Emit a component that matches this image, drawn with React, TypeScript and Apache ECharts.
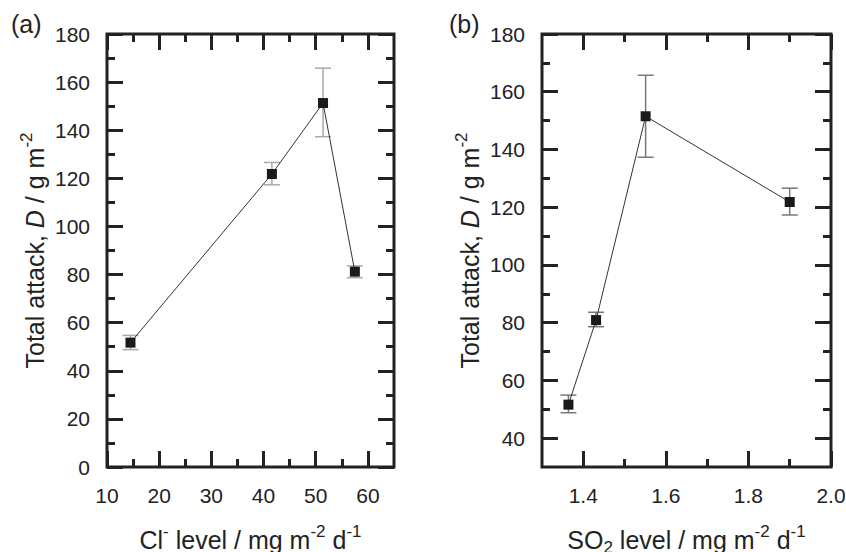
import React, { useEffect, useRef } from "react";
import * as echarts from "echarts";

// ---------- data ----------
const clLevel = [14.5, 41.6, 51.4, 57.5];
const clAttack = [51.7, 121.8, 151.3, 81.2];
const clErrLow = [48.8, 117.3, 137.3, 78.7];
const clErrHigh = [54.7, 126.6, 165.8, 83.6];

const so2Level = [1.364, 1.431, 1.551, 1.9];
const so2Attack = [51.6, 80.9, 151.5, 121.8];
const so2ErrLow = [48.8, 78.6, 137.3, 117.3];
const so2ErrHigh = [54.9, 83.6, 165.7, 126.6];

const clMajorTicks = [10, 20, 30, 40, 50, 60];
const clMinorTicks = [15, 25, 35, 45, 55];
const attackMajorA = [0, 20, 40, 60, 80, 100, 120, 140, 160, 180];
const attackMinorA = [10, 30, 50, 70, 90, 110, 130, 150, 170];
const so2MajorTicks = [1.4, 1.6, 1.8, 2.0];
const so2MinorTicks = [1.5, 1.7, 1.9];
const attackMajorB = [40, 60, 80, 100, 120, 140, 160, 180];
const attackMinorB = [50, 70, 90, 110, 130, 150, 170];

const FONT = '"Liberation Sans", Arial, Helvetica, sans-serif';
const INK = "#222";
const MAJOR_LEN = 16;
const MINOR_LEN = 8;
const GRID_W_A = 287;
const GRID_W_B = 289;
const GRID_H = 433;

const makeNameStyle = () => ({
  fontFamily: FONT,
  fontSize: 25,
  lineHeight: 33,
  color: INK,
  rich: {
    i: { fontFamily: FONT, fontSize: 25, lineHeight: 33, fontStyle: "italic", color: INK },
    sup: { fontFamily: FONT, fontSize: 17, lineHeight: 17, verticalAlign: "top", color: INK },
    sub: { fontFamily: FONT, fontSize: 17, lineHeight: 17, verticalAlign: "bottom", color: INK },
  },
});

function mkAxis(
  gridIndex: number,
  position: string,
  min: number,
  max: number,
  labels: number[],
  fmt: (v: number) => string,
  name: string,
  nameGap: number,
  rotate: number,
  margin: number
) {
  return {
    type: "value",
    gridIndex,
    min,
    max,
    position,
    splitLine: { show: false },
    axisLine: { show: false, onZero: false },
    axisTick: { show: false },
    axisLabel: {
      show: true,
      customValues: labels.slice(),
      margin,
      fontFamily: FONT,
      fontSize: 21,
      color: INK,
      formatter: (v: number) => fmt(v),
    },
    name,
    nameLocation: "middle",
    nameGap,
    nameRotate: rotate,
    nameTextStyle: makeNameStyle(),
  };
}

type TickSpec = {
  xExt: [number, number];
  yExt: [number, number];
  xMajor: number[];
  xMinor: number[];
  yMajor: number[];
  yMinor: number[];
  w: number;
  h: number;
};

// inward tick marks on all four sides as mark lines in data space
function tickMarkLines(t: TickSpec) {
  const xu = (t.xExt[1] - t.xExt[0]) / t.w;
  const yu = (t.yExt[1] - t.yExt[0]) / t.h;
  const out: any[] = [];
  const xs: [number[], number][] = [[t.xMajor, MAJOR_LEN], [t.xMinor, MINOR_LEN]];
  xs.forEach(([vals, len]) => {
    vals.forEach((v) => {
      out.push([{ coord: [v, t.yExt[0]] }, { coord: [v, t.yExt[0] + len * yu] }]);
      out.push([{ coord: [v, t.yExt[1]] }, { coord: [v, t.yExt[1] - len * yu] }]);
    });
  });
  const ys: [number[], number][] = [[t.yMajor, MAJOR_LEN], [t.yMinor, MINOR_LEN]];
  ys.forEach(([vals, len]) => {
    vals.forEach((v) => {
      out.push([{ coord: [t.xExt[0], v] }, { coord: [t.xExt[0] + len * xu, v] }]);
      out.push([{ coord: [t.xExt[1], v] }, { coord: [t.xExt[1] - len * xu, v] }]);
    });
  });
  return out;
}

function errorSeries(xi: number, xs: number[], lo: number[], hi: number[], color: string) {
  return {
    type: "custom",
    xAxisIndex: xi,
    yAxisIndex: xi,
    z: 1,
    data: xs.map((x, i) => [x, lo[i], hi[i]]),
    encode: { x: 0, y: [1, 2] },
    renderItem: (_params: any, api: any) => {
      const x = api.value(0);
      const top = api.coord([x, api.value(2)]);
      const bot = api.coord([x, api.value(1)]);
      const hw = 8;
      const st = { stroke: color, lineWidth: 1.5 };
      return {
        type: "group",
        children: [
          { type: "line", shape: { x1: top[0], y1: top[1], x2: bot[0], y2: bot[1] }, style: st },
          { type: "line", shape: { x1: top[0] - hw, y1: top[1], x2: top[0] + hw, y2: top[1] }, style: st },
          { type: "line", shape: { x1: bot[0] - hw, y1: bot[1], x2: bot[0] + hw, y2: bot[1] }, style: st },
        ],
      };
    },
  };
}

function lineSeries(xi: number, xs: number[], ys: number[], ticks: TickSpec) {
  return {
    type: "line",
    xAxisIndex: xi,
    yAxisIndex: xi,
    z: 3,
    data: xs.map((x, i) => [x, ys[i]]),
    symbol: "rect",
    symbolSize: 10,
    itemStyle: { color: "#1a1a1a" },
    lineStyle: { color: "#333", width: 1 },
    markLine: {
      silent: true,
      symbol: ["none", "none"],
      label: { show: false },
      lineStyle: { color: INK, width: 3, type: "solid" },
      emphasis: { disabled: true },
      data: tickMarkLines(ticks),
    },
  };
}

export default function App() {
  const ref = useRef<HTMLDivElement>(null);
  useEffect(() => {
    if (!ref.current) return;
    const chart = echarts.init(ref.current, undefined, { renderer: "svg" });
    const yName = "Total attack, {i|D} / g m{sup|-2}";
    const int = (v: number) => String(v);
    const dec = (v: number) => v.toFixed(1);
    const xAxis = [
      mkAxis(0, "bottom", 10, 65, clMajorTicks, int, "Cl{sup|-} level / mg m{sup|-2} d{sup|-1}", 56, 0, 18),
      mkAxis(1, "bottom", 1.3, 2.0, so2MajorTicks, dec, "SO{sub|2} level / mg m{sup|-2} d{sup|-1}", 56, 0, 18),
    ];
    const yAxis = [
      mkAxis(0, "left", 0, 180, attackMajorA, int, yName, 55, 90, 17),
      mkAxis(1, "left", 30, 180, attackMajorB, int, yName, 55, 90, 17),
    ];
    const ticksA: TickSpec = { xExt: [10, 65], yExt: [0, 180], xMajor: clMajorTicks, xMinor: clMinorTicks, yMajor: attackMajorA, yMinor: attackMinorA, w: GRID_W_A, h: GRID_H };
    const ticksB: TickSpec = { xExt: [1.3, 2.0], yExt: [30, 180], xMajor: so2MajorTicks, xMinor: so2MinorTicks, yMajor: attackMajorB, yMinor: attackMinorB, w: GRID_W_B, h: GRID_H };
    chart.setOption({
      animation: false,
      grid: [
        { left: 107, top: 34, width: GRID_W_A, height: GRID_H, outerBoundsMode: "none", show: true, borderColor: INK, borderWidth: 3, backgroundColor: "transparent" },
        { left: 542, top: 34, width: GRID_W_B, height: GRID_H, outerBoundsMode: "none", show: true, borderColor: INK, borderWidth: 3, backgroundColor: "transparent" },
      ],
      xAxis,
      yAxis,
      series: [
        errorSeries(0, clLevel, clErrLow, clErrHigh, "#a8a8a8"),
        lineSeries(0, clLevel, clAttack, ticksA),
        errorSeries(1, so2Level, so2ErrLow, so2ErrHigh, "#777"),
        lineSeries(1, so2Level, so2Attack, ticksB),
      ],
      graphic: [
        { type: "text", left: 11, top: 11, style: { text: "(a)", fontFamily: FONT, fontSize: 25, fill: INK } },
        { type: "text", left: 449, top: 11, style: { text: "(b)", fontFamily: FONT, fontSize: 25, fill: INK } },
      ],
    });
    return () => chart.dispose();
  }, []);
  return (
    <div
      ref={ref}
      style={{ position: "fixed", left: 0, top: 0, width: 846, height: 552, background: "#fff" }}
    />
  );
}
